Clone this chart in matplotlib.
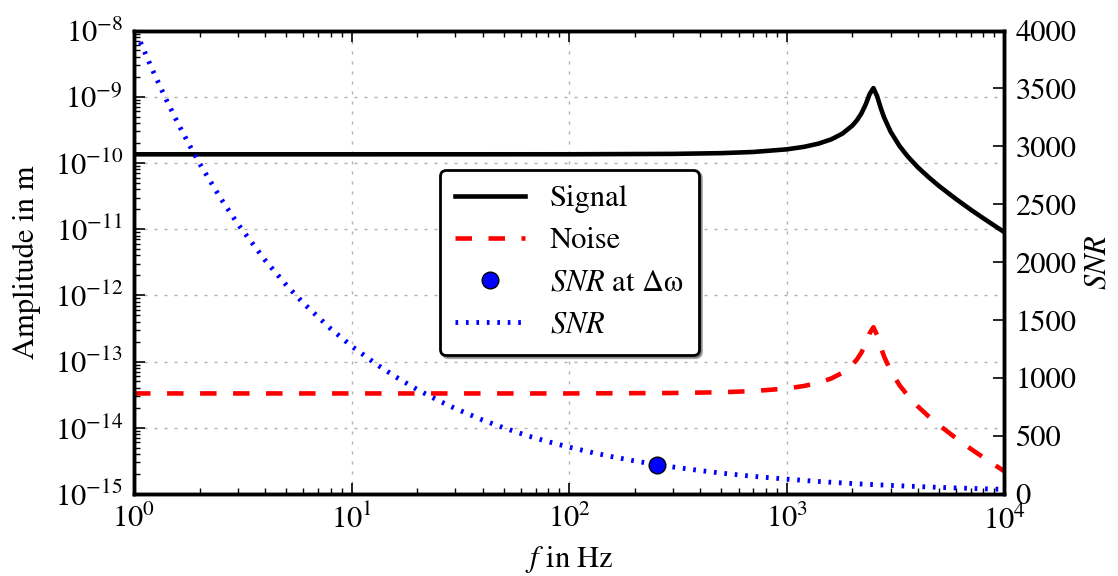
import numpy as np
import matplotlib
matplotlib.use("Agg")
import matplotlib.pyplot as plt
from matplotlib.ticker import LogLocator, NullFormatter, MultipleLocator

# ---------------- data ----------------
freq_amp = [1, 10, 100, 300, 500, 700, 1000, 1200, 1400, 1600, 1800, 2000, 2100,
            2200, 2300, 2400, 2500, 2600, 2700, 2800, 3000, 3300, 3600, 4000,
            4500, 5000, 6000, 7000, 8000, 9000, 10000]
signal = [1.35e-10, 1.35e-10, 1.352e-10, 1.37e-10, 1.406e-10, 1.464e-10, 1.605e-10,
          1.751e-10, 1.96e-10, 2.27e-10, 2.77e-10, 3.66e-10, 4.41e-10, 5.57e-10,
          7.54e-10, 1.089e-9, 1.35e-9, 1.021e-9, 6.80e-10, 4.86e-10, 2.96e-10,
          1.79e-10, 1.246e-10, 8.6e-11, 6.03e-11, 4.5e-11, 2.84e-11, 1.97e-11,
          1.46e-11, 1.13e-11, 9.0e-12]
noise = [3.30e-14, 3.30e-14, 3.30e-14, 3.35e-14, 3.44e-14, 3.58e-14, 3.92e-14,
         4.28e-14, 4.79e-14, 5.55e-14, 6.77e-14, 8.95e-14, 1.078e-13, 1.361e-13,
         1.843e-13, 2.66e-13, 3.30e-13, 2.50e-13, 1.66e-13, 1.19e-13, 7.23e-14,
         4.37e-14, 3.05e-14, 2.10e-14, 1.47e-14, 1.10e-14, 6.94e-15, 4.81e-15,
         3.57e-15, 2.76e-15, 2.20e-15]

freq_snr = [1.07, 1.2, 1.4, 1.6, 1.8, 2, 2.5, 3, 4, 5, 6, 8, 10, 13, 16, 20, 25, 30,
            40, 50, 65, 80, 100, 130, 160, 200, 250, 300, 400, 500, 650, 800, 1000,
            1300, 1600, 2000, 2500, 3000, 4000, 5000, 6500, 8000, 10000]
snr = [3900, 3683, 3410, 3190, 3008, 2853, 2552, 2330, 2018, 1805, 1647, 1427, 1276,
       1119, 1009, 902, 807, 737, 638, 571, 500, 451, 404, 354, 319, 285, 255, 233,
       202, 180, 158, 143, 128, 112, 101, 90, 81, 74, 64, 57, 50, 45, 40]

snr_point_f = [252]
snr_point_v = [252]

x_lim = (1, 1e4)
amp_lim = (1e-15, 1e-8)
snr_lim = (0, 4000)

# ---------------- style ----------------
plt.rcParams['font.family'] = ['STIXGeneral', 'DejaVu Serif']
plt.rcParams['mathtext.fontset'] = 'stix'
plt.rcParams['font.size'] = 22

fig = plt.figure(figsize=(11.18, 5.76), dpi=100)
ax = fig.add_axes([0.1199, 0.1424, 0.7785, 0.8046])
ax2 = ax.twinx()

l1, = ax.plot(freq_amp, signal, color='black', lw=3.3, label='Signal')
l2, = ax.plot(freq_amp, noise, color='red', lw=3.3, dashes=(3.6, 3.6), label='Noise')
l4, = ax2.plot(freq_snr, snr, color='blue', lw=3.5, dashes=(0.55, 1.6), label='$SNR$')
l3, = ax2.plot(snr_point_f, snr_point_v, 'o', color='blue', mec='black', mew=1,
               ms=12, label='$SNR$ at Δω', zorder=5)

ax.set_xscale('log')
ax.set_yscale('log')
ax.set_xlim(*x_lim)
ax.set_ylim(*amp_lim)
ax2.set_ylim(*snr_lim)
ax2.yaxis.set_major_locator(MultipleLocator(500))

ax.xaxis.set_major_locator(LogLocator(base=10, numticks=20))
ax.xaxis.set_minor_locator(LogLocator(base=10, subs=np.arange(2, 10), numticks=100))
ax.xaxis.set_minor_formatter(NullFormatter())
ax.yaxis.set_major_locator(LogLocator(base=10, numticks=20))
ax.yaxis.set_minor_locator(LogLocator(base=10, subs=np.arange(2, 10), numticks=100))
ax.yaxis.set_minor_formatter(NullFormatter())

ax.grid(True, which='major', color='#b0b0b0', lw=1, ls=(0, (2.2, 5)))

ax.tick_params(which='both', direction='in', top=True, right=False, left=True,
               bottom=True)
ax.tick_params(which='major', length=8, width=1.2, pad=8)
ax.tick_params(which='minor', length=4, width=1)
ax2.tick_params(which='both', direction='in', right=True, left=False)
ax2.tick_params(which='major', length=8, width=1.2, pad=8)

for a in (ax, ax2):
    for s in a.spines.values():
        s.set_linewidth(2.5)

ax.set_xlabel('$f$ in Hz', labelpad=6)
ax.set_ylabel('Amplitude in m', labelpad=10)
ax2.set_ylabel('$SNR$', labelpad=6)

leg = ax2.legend([l1, l2, l3, l4], ['Signal', 'Noise', '$SNR$ at Δω', '$SNR$'],
                 loc='center', fancybox=True, shadow=True, framealpha=1,
                 handlelength=2.3, handletextpad=0.8, borderpad=0.5,
                 labelspacing=0.45, numpoints=1)
leg.get_frame().set_edgecolor('black')
leg.get_frame().set_linewidth(2)

fig.savefig('out.png', dpi=100)
